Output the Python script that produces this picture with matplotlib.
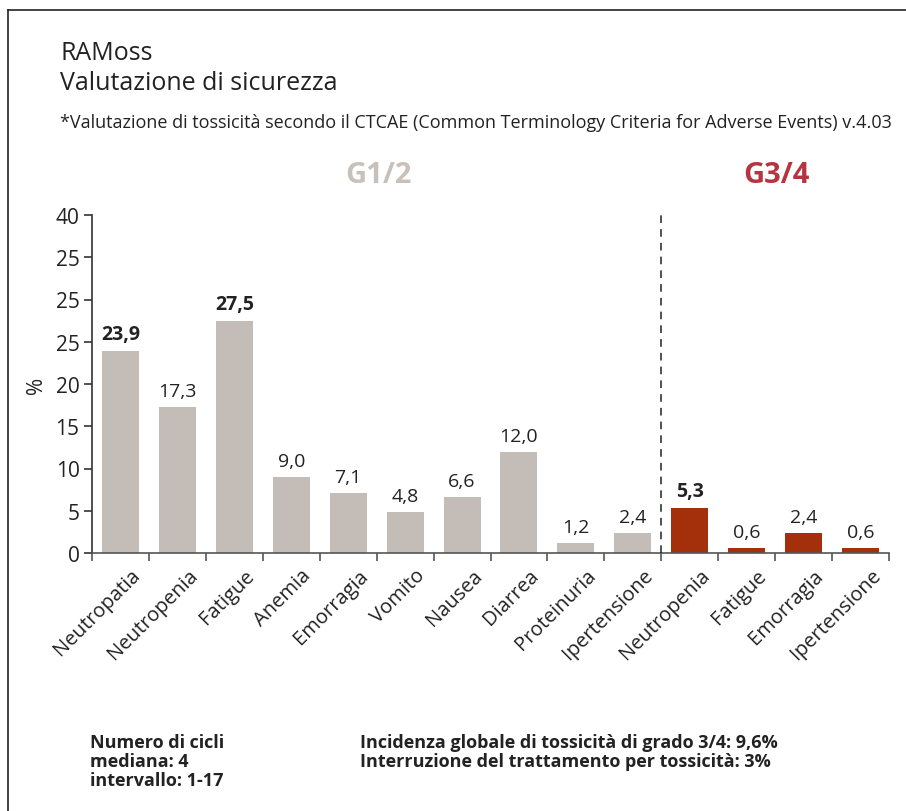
import numpy as np
import matplotlib
matplotlib.use("Agg")
import matplotlib.pyplot as plt
from matplotlib import font_manager

# pick a narrow humanist-ish font if available
names = {f.name for f in font_manager.fontManager.ttflist}
narrow = 'Liberation Sans Narrow' if 'Liberation Sans Narrow' in names else 'Open Sans'
plt.rcParams['font.family'] = [narrow, 'DejaVu Sans']

# data
g12_labels = ['Neutropatia', 'Neutropenia', 'Fatigue', 'Anemia', 'Emorragia',
              'Vomito', 'Nausea', 'Diarrea', 'Proteinuria', 'Ipertensione']
g12_values = [23.9, 17.3, 27.5, 9.0, 7.1, 4.8, 6.6, 12.0, 1.2, 2.4]
g34_labels = ['Neutropenia', 'Fatigue', 'Emorragia', 'Ipertensione']
g34_values = [5.3, 0.6, 2.4, 0.6]
bold_flags = [True, False, True, False, False, False, False, False, False, False,
              True, False, False, False]
ytick_values = [0, 5, 10, 15, 20, 25, 30, 35, 40]
ytick_labels = ['0', '5', '10', '15', '20', '25', '25', '25', '40']

gray = '#c4bdb7'
red = '#a3300a'
red_txt = '#b5343f'
txt = '#222222'

W, H = 906, 812
fig = plt.figure(figsize=(W / 100, H / 100), dpi=100)
ax = fig.add_axes([92 / W, 1 - 554 / H, 797 / W, 338 / H])

labels = g12_labels + g34_labels
values = g12_values + g34_values
colors = [gray] * len(g12_values) + [red] * len(g34_values)
x = np.arange(len(values))
ax.bar(x, values, width=0.65, color=colors, zorder=2)

for xi, v, b in zip(x, values, bold_flags):
    ax.annotate(f"{v:.1f}".replace('.', ','), (xi, v), xytext=(0, 5),
                textcoords='offset points', ha='center', va='bottom',
                fontsize=14, color=txt, fontweight='bold' if b else 'normal')

# category labels, rotated, anchored a little right of the bar centre
for xi, lab in zip(x, labels):
    ax.annotate(lab, (xi, 0), xytext=(10, -12), textcoords='offset pixels',
                rotation=45, ha='right', va='top', rotation_mode='anchor',
                fontsize=14.5, color=txt, annotation_clip=False)

ax.set_xlim(-0.5, len(values) - 0.5)
ax.set_ylim(0, 40)
ax.set_yticks(ytick_values)
ax.set_yticklabels(ytick_labels, fontsize=15, color=txt)
ax.set_xticks(np.arange(len(values) + 1) - 0.5)
ax.set_xticklabels([])
ax.tick_params(axis='x', length=6, width=1.2, color='#555555')
ax.tick_params(axis='y', length=6, width=1.2, color='#333333', pad=3)
ax.set_ylabel('%', fontsize=15, color=txt, labelpad=6)

for s in ['top', 'right']:
    ax.spines[s].set_visible(False)
ax.spines['left'].set_color('#333333')
ax.spines['bottom'].set_color('#555555')
ax.spines['left'].set_linewidth(1.2)
ax.spines['bottom'].set_linewidth(1.2)

# divider between the two grade groups
ax.axvline(len(g12_values) - 0.5, ymin=0, ymax=1, color='#222222',
           linestyle=(0, (5, 4)), linewidth=1.1, zorder=3)

# texts
def py(v):
    return 1 - v / H

fig.text(60 / W, py(60), 'RAMoss', fontsize=18, color=txt)
fig.text(60 / W, py(90), 'Valutazione di sicurezza', fontsize=18, color=txt)
fig.text(60 / W, py(128), '*Valutazione di tossicità secondo il CTCAE (Common Terminology '
         'Criteria for Adverse Events) v.4.03', fontsize=12.95, color=txt)
fig.text(378 / W, py(183), 'G1/2', fontsize=21, fontweight='bold', color='#c8c0ba', ha='center')
fig.text(776 / W, py(183), 'G3/4', fontsize=21, fontweight='bold', color=red_txt, ha='center')

fig.text(90 / W, py(748), 'Numero di cicli', fontsize=13, fontweight='bold', color=txt)
fig.text(90 / W, py(767), 'mediana: 4', fontsize=13, fontweight='bold', color=txt)
fig.text(90 / W, py(786), 'intervallo: 1-17', fontsize=13, fontweight='bold', color=txt)
fig.text(360 / W, py(748), 'Incidenza globale di tossicità di grado 3/4: 9,6%',
         fontsize=13, fontweight='bold', color=txt)
fig.text(360 / W, py(767), 'Interruzione del trattamento per tossicità: 3%',
         fontsize=13, fontweight='bold', color=txt)

# frame lines (top and left)
fig.add_artist(plt.Line2D([8 / W, 1], [py(11), py(11)], color='#222222', linewidth=1.2))
fig.add_artist(plt.Line2D([8 / W, 8 / W], [py(11), 0], color='#222222', linewidth=1.2))

fig.savefig('out.png', dpi=100)
